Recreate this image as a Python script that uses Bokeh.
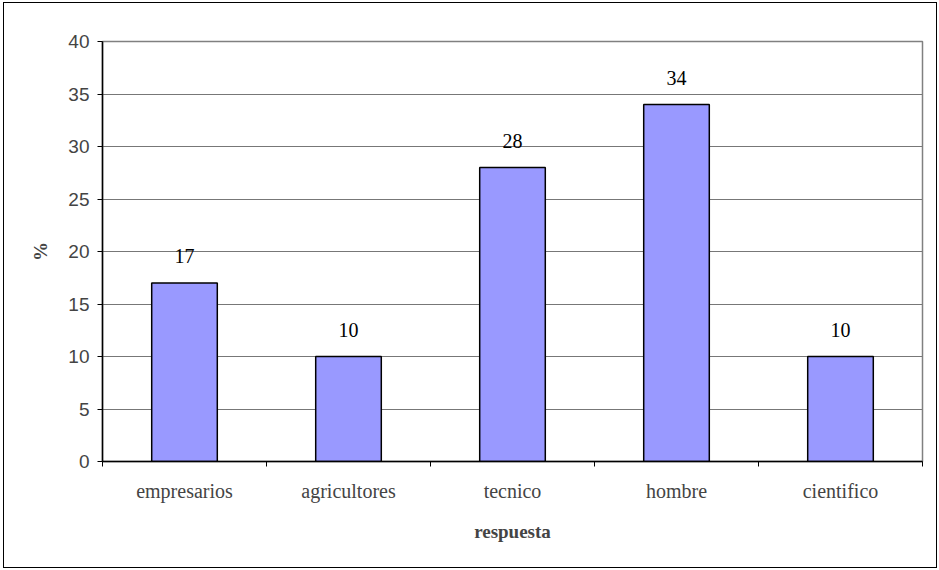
from bokeh.plotting import figure
from bokeh.models import (ColumnDataSource, FixedTicker, LinearAxis, Range1d,
                          LabelSet, Grid)
from bokeh.embed import file_html
from bokeh.resources import INLINE

# survey answers (% of respondents)
categories = ["empresarios", "agricultores", "tecnico", "hombre", "cientifico"]
values = [17, 10, 28, 34, 10]
y_ticks = [0, 5, 10, 15, 20, 25, 30, 35, 40]

centers = [i + 0.5 for i in range(len(categories))]
bounds = [i for i in range(len(categories) + 1)]

src = ColumnDataSource(dict(x=centers, top=values, label=[str(v) for v in values]))

p = figure(width=934, height=566, output_backend="svg", toolbar_location=None,
           x_range=Range1d(0, len(categories)), y_range=Range1d(0, 40),
           x_axis_type=None, y_axis_type=None,
           min_border_left=98, min_border_top=38, min_border_right=16,
           min_border_bottom=108)
p.styles = {"border": "1px solid black", "margin-left": "3px", "margin-top": "2px"}

# horizontal gridlines behind the bars
grid = Grid(dimension=1, ticker=FixedTicker(ticks=y_ticks),
            grid_line_color="#777777", grid_line_width=1)
p.add_layout(grid)

p.vbar(x="x", top="top", width=0.4, bottom=0, source=src,
       fill_color="#9999FF", line_color="black", line_width=1.5)

labels = LabelSet(x="x", y="top", text="label", source=src,
                  text_align="center", text_baseline="bottom", y_offset=20,
                  text_font="Liberation Serif", text_font_size="20px",
                  text_color="black")
p.add_layout(labels)

yaxis = LinearAxis(ticker=FixedTicker(ticks=y_ticks, minor_ticks=[]))
yaxis.axis_label = "%"
yaxis.axis_label_text_font = "Liberation Serif"
yaxis.axis_label_text_font_style = "bold"
yaxis.axis_label_text_font_size = "19px"
yaxis.axis_label_standoff = 14
yaxis.major_label_text_font = "Liberation Sans"
yaxis.major_label_text_font_size = "19px"
yaxis.major_label_standoff = 8
yaxis.major_tick_in = 0
yaxis.major_tick_out = 5
yaxis.axis_line_color = "black"
yaxis.axis_line_width = 1.5
p.add_layout(yaxis, "left")

xaxis = LinearAxis(ticker=FixedTicker(ticks=centers, minor_ticks=bounds))
xaxis.major_label_overrides = {c: n for c, n in zip(centers, categories)}
xaxis.major_tick_line_color = None
xaxis.minor_tick_in = 0
xaxis.minor_tick_out = 5
xaxis.minor_tick_line_color = "black"
xaxis.major_label_text_font = "Liberation Serif"
xaxis.major_label_text_font_size = "20px"
xaxis.major_label_standoff = 12
xaxis.axis_label = "respuesta"
xaxis.axis_label_text_font = "Liberation Serif"
xaxis.axis_label_text_font_style = "bold"
xaxis.axis_label_text_font_size = "19px"
xaxis.axis_label_standoff = 16
xaxis.axis_line_color = "black"
xaxis.axis_line_width = 1.5
p.add_layout(xaxis, "below")

p.outline_line_color = "#808080"
p.outline_line_width = 1.5
p.background_fill_color = "white"
p.border_fill_color = "white"

open("out.html", "w").write(file_html(p, INLINE))
